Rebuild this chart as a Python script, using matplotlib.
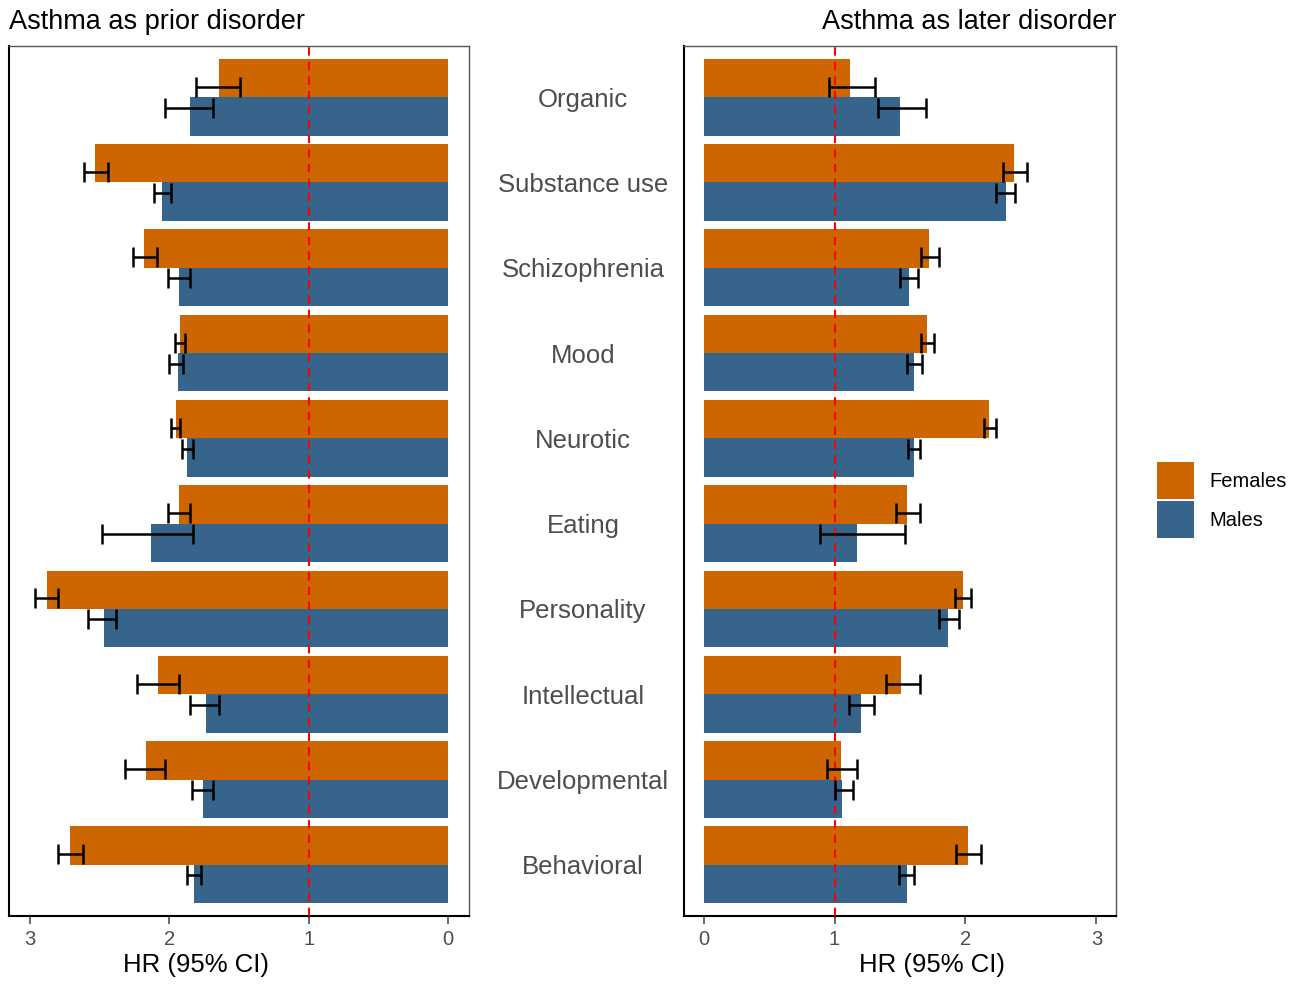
import matplotlib
matplotlib.use("Agg")
import numpy as np
import matplotlib.pyplot as plt
import matplotlib.transforms as mtransforms
from matplotlib.patches import Patch

plt.rcParams["font.family"] = ["Liberation Sans", "DejaVu Sans"]

# 疾病类别（自上而下）
categories = ["Organic", "Substance use", "Schizophrenia", "Mood", "Neurotic",
              "Eating", "Personality", "Intellectual", "Developmental", "Behavioral"]

# 哮喘作为先发疾病：HR 及 95% CI
prior_f_hr = [1.64, 2.53, 2.18, 1.92, 1.95, 1.93, 2.88, 2.08, 2.17, 2.71]
prior_f_lo = [1.49, 2.44, 2.09, 1.89, 1.92, 1.85, 2.80, 1.93, 2.03, 2.62]
prior_f_hi = [1.81, 2.61, 2.26, 1.96, 1.99, 2.01, 2.96, 2.23, 2.32, 2.80]
prior_m_hr = [1.85, 2.05, 1.93, 1.94, 1.87, 2.13, 2.47, 1.74, 1.76, 1.82]
prior_m_lo = [1.69, 1.99, 1.85, 1.90, 1.83, 1.83, 2.38, 1.64, 1.69, 1.77]
prior_m_hi = [2.03, 2.11, 2.01, 2.00, 1.91, 2.48, 2.58, 1.85, 1.84, 1.87]

# 哮喘作为后发疾病：HR 及 95% CI
later_f_hr = [1.12, 2.37, 1.72, 1.71, 2.18, 1.55, 1.98, 1.51, 1.05, 2.02]
later_f_lo = [0.96, 2.29, 1.66, 1.66, 2.14, 1.47, 1.92, 1.39, 0.94, 1.93]
later_f_hi = [1.31, 2.47, 1.80, 1.76, 2.23, 1.65, 2.04, 1.65, 1.17, 2.12]
later_m_hr = [1.50, 2.31, 1.57, 1.61, 1.61, 1.17, 1.87, 1.20, 1.06, 1.55]
later_m_lo = [1.33, 2.23, 1.50, 1.55, 1.56, 0.89, 1.80, 1.11, 1.00, 1.49]
later_m_hi = [1.70, 2.38, 1.64, 1.67, 1.65, 1.54, 1.95, 1.30, 1.14, 1.61]

sexes = ["Females", "Males"]
colors = {"Females": "#CD6600", "Males": "#36648B"}
grey_txt = "#4D4D4D"

W, H = 1302, 984
fig = plt.figure(figsize=(W / 100, H / 100), dpi=100)
ax_l = fig.add_axes([9 / W, 68 / H, 460 / W, 870 / H])
ax_r = fig.add_axes([684 / W, 68 / H, 432 / W, 870 / H])

y = np.arange(len(categories))
bar_h = 0.45


def draw_panel(ax, f_hr, f_lo, f_hi, m_hr, m_lo, m_hi):
    series = [(f_hr, f_lo, f_hi, -1), (m_hr, m_lo, m_hi, 1)]
    for (hr, lo, hi, side), sex in zip(series, sexes):
        hr, lo, hi = map(np.asarray, (hr, lo, hi))
        ax.barh(y + side * bar_h / 2, hr, height=bar_h, color=colors[sex],
                edgecolor="none", zorder=2)
        ax.errorbar(hr, y + side * 0.123, xerr=[hr - lo, hi - hr], fmt="none",
                    ecolor="black", elinewidth=1.8, capsize=7.5, capthick=1.8,
                    zorder=4)
    ax.axvline(1, color="red", lw=1.5, ls=(0, (4, 3)), zorder=3)
    ax.set_ylim(len(categories) - 0.4, -0.6)
    ax.set_yticks([])
    ax.set_xticks([0, 1, 2, 3])
    ax.tick_params(axis="x", labelsize=14.5, colors=grey_txt, length=6, width=1.2,
                   pad=4)
    for s in ("left", "bottom"):
        ax.spines[s].set_color("black")
        ax.spines[s].set_linewidth(1.5)
    for s in ("top", "right"):
        ax.spines[s].set_color("#555555")
        ax.spines[s].set_linewidth(1)
    ax.set_xlabel("HR (95% CI)", fontsize=18.5, color="black")
    ax.xaxis.label.set_va("center")


draw_panel(ax_l, prior_f_hr, prior_f_lo, prior_f_hi, prior_m_hr, prior_m_lo, prior_m_hi)
draw_panel(ax_r, later_f_hr, later_f_lo, later_f_hi, later_m_hr, later_m_lo, later_m_hi)

ax_l.set_xlim(3.15, -0.15)
ax_r.set_xlim(-0.15, 3.15)
ax_l.xaxis.set_label_coords(0.4076, -0.0563)
ax_r.xaxis.set_label_coords(0.573, -0.0563)

ax_l.set_title("Asthma as prior disorder", loc="left", fontsize=19.5, pad=12)
ax_r.set_title("Asthma as later disorder", loc="right", fontsize=19.5, pad=12)

# 中间的类别标签
trans = mtransforms.blended_transform_factory(fig.transFigure, ax_r.transData)
for yi, cat in zip(y, categories):
    fig.text(583 / W, yi, cat, transform=trans, ha="center", va="center_baseline",
             fontsize=18.5, color=grey_txt)

handles = [Patch(facecolor=colors[s], edgecolor="none") for s in sexes]
fig.legend(handles, sexes, loc="center left", bbox_to_anchor=(1157 / W, 1 - 500 / H),
           frameon=False, fontsize=14.5, handlelength=1.85, handleheight=2.4,
           labelspacing=0.12, handletextpad=0.75, borderpad=0, borderaxespad=0)

fig.savefig("out.png", dpi=100)
